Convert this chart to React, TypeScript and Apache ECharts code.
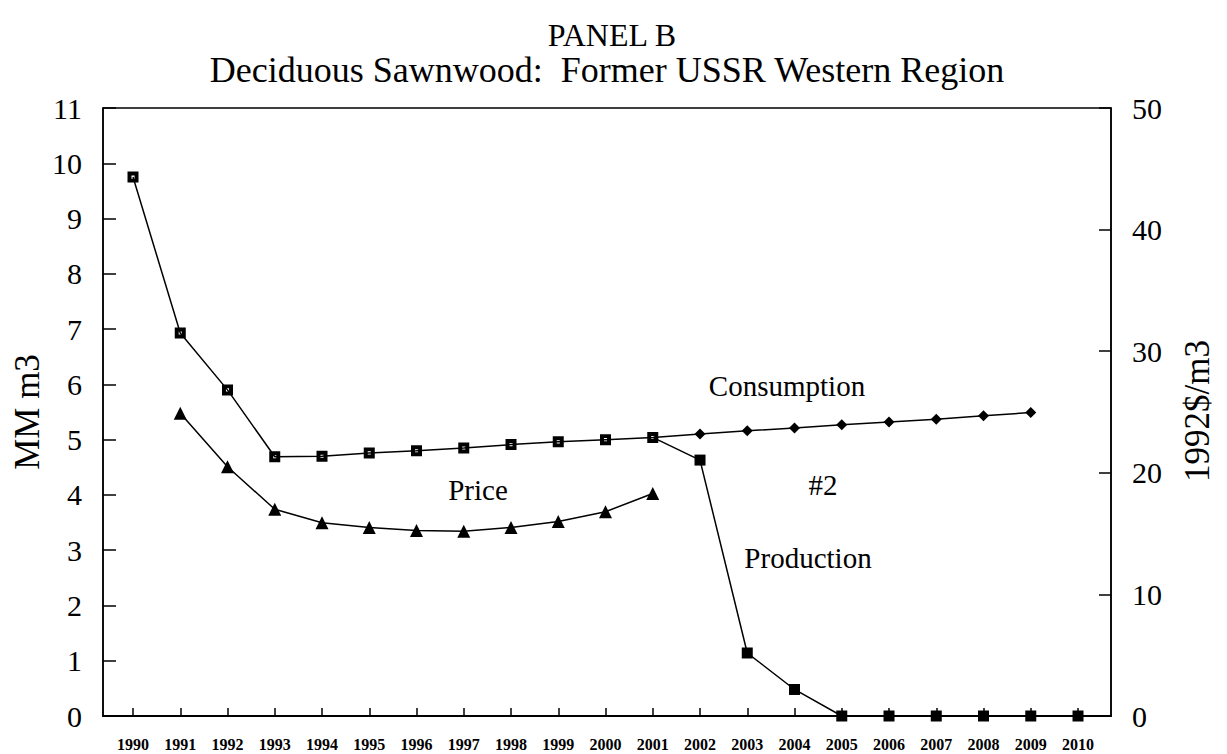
import React, { useEffect, useRef } from "react";
import * as echarts from "echarts";

const years = [1990, 1991, 1992, 1993, 1994, 1995, 1996, 1997, 1998, 1999, 2000, 2001, 2002, 2003, 2004, 2005, 2006, 2007, 2008, 2009, 2010];
// MM m3 (left axis)
const consumption = [9.75, 6.93, 5.9, 4.69, 4.7, 4.76, 4.8, 4.85, 4.91, 4.96, 5.0, 5.04, 5.1, 5.16, 5.21, 5.27, 5.32, 5.37, 5.43, 5.49, null];
const production = [null, null, null, null, null, null, null, null, null, null, null, 5.04, 4.63, 1.14, 0.48, 0, 0, 0, 0, 0, 0];
// 1992$/m3 (right axis)
const price = [null, 24.9, 20.5, 17.0, 15.9, 15.5, 15.25, 15.2, 15.5, 16.0, 16.8, 18.3, null, null, null, null, null, null, null, null, null];
const lastHistoricalYear = 2001;
const leftTicks = [0, 11];
const rightTicks = [0, 50];

const FONT = "Liberation Serif";
const HOLLOW_SQUARE = "path://M0,0H10V10H0Z M3.6,3.6V6.4H6.4V3.6Z";

export default function App() {
  const ref = useRef<HTMLDivElement>(null);
  useEffect(() => {
    if (!ref.current) return;
    const chart = echarts.init(ref.current, null, { renderer: "svg" });
    const consData = years.map((y, i) => {
      const v = consumption[i];
      if (v === null) return [y, null];
      if (y > lastHistoricalYear) return { value: [y, v], symbol: "diamond", symbolSize: 11 };
      return { value: [y, v] };
    });
    const prodData = years.map((y, i) => {
      const v = production[i];
      if (y === lastHistoricalYear) return { value: [y, v], symbolSize: 0 };
      return [y, v];
    });
    const priceData = years.map((y, i) => [y, price[i]]);
    const txt = (text: string, x: number, y: number, size: number, rotation = 0) => ({
      type: "text",
      x,
      y,
      rotation,
      style: { text, fill: "#000", font: `${size}px ${FONT}`, textAlign: "center", textVerticalAlign: "middle" },
    });
    chart.setOption({
      animation: false,
      backgroundColor: "#fff",
      textStyle: { fontFamily: FONT },
      grid: { left: 103, right: 116, top: 108, bottom: 38, show: true, borderColor: "#000", borderWidth: 1.5, backgroundColor: "transparent" },
      xAxis: {
        type: "value",
        min: 1989.365,
        max: 2010.698,
        axisLine: { lineStyle: { color: "#000", width: 2 } },
        axisTick: { inside: true, length: 8, customValues: years, lineStyle: { color: "#000", width: 1.5 } },
        axisLabel: { customValues: years, formatter: (v: number) => String(Math.round(v)), margin: 20, fontFamily: FONT, fontSize: 16, fontWeight: "bold", color: "#000" },
        splitLine: { show: false },
      },
      yAxis: [
        {
          type: "value",
          min: leftTicks[0],
          max: leftTicks[1],
          interval: 1,
          axisLine: { show: true, lineStyle: { color: "#000", width: 1.5 } },
          axisTick: { show: true, inside: true, length: 13, lineStyle: { color: "#000", width: 1.5 } },
          axisLabel: { margin: 21, fontFamily: FONT, fontSize: 30, color: "#000" },
          splitLine: { show: false },
        },
        {
          type: "value",
          min: rightTicks[0],
          max: rightTicks[1],
          interval: 10,
          position: "right",
          axisLine: { show: true, lineStyle: { color: "#000", width: 1.5 } },
          axisTick: { show: true, inside: true, length: 12, lineStyle: { color: "#000", width: 1.5 } },
          axisLabel: { margin: 21, fontFamily: FONT, fontSize: 30, color: "#000" },
          splitLine: { show: false },
        },
      ],
      series: [
        {
          name: "Production",
          type: "line",
          yAxisIndex: 0,
          data: prodData,
          symbol: "rect",
          symbolSize: 11,
          showAllSymbol: true,
          connectNulls: false,
          lineStyle: { color: "#000", width: 1.5 },
          itemStyle: { color: "#000" },
          z: 2,
        },
        {
          name: "Consumption",
          type: "line",
          yAxisIndex: 0,
          data: consData,
          symbol: HOLLOW_SQUARE,
          symbolSize: 11,
          showAllSymbol: true,
          lineStyle: { color: "#000", width: 1.5 },
          itemStyle: { color: "#000" },
          z: 3,
        },
        {
          name: "Price",
          type: "line",
          yAxisIndex: 1,
          data: priceData,
          symbol: "triangle",
          symbolSize: 13,
          showAllSymbol: true,
          lineStyle: { color: "#000", width: 1.5 },
          itemStyle: { color: "#000" },
          z: 3,
        },
      ],
      graphic: [
        txt("PANEL B", 612, 35, 32),
        txt("Deciduous Sawnwood:  Former USSR Western Region", 607, 70, 36),
        txt("MM m3", 27, 412, 35, Math.PI / 2),
        txt("1992$/m3", 1197, 411, 35, Math.PI / 2),
        txt("Consumption", 787, 386, 29),
        txt("Price", 478, 490, 29),
        txt("#2", 823, 485, 29),
        txt("Production", 808, 558, 29),
      ],
    });
    return () => chart.dispose();
  }, []);
  return <div ref={ref} style={{ position: "fixed", left: 0, top: 0, width: 1227, height: 754 }} />;
}
